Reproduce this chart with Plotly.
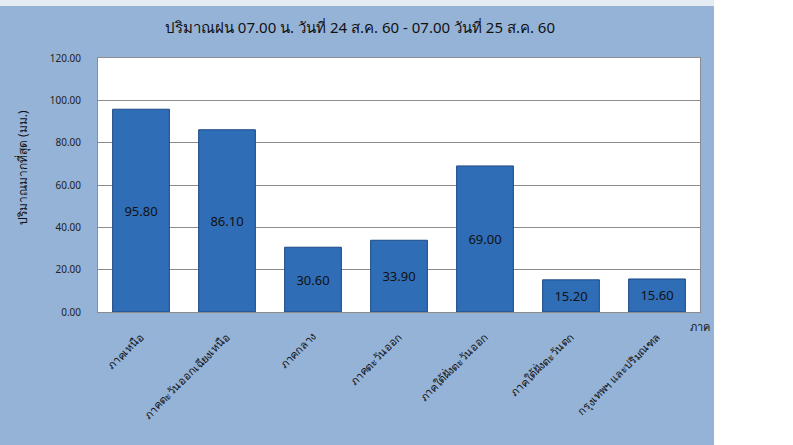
import plotly.graph_objects as go

categories = ["ภาคเหนือ", "ภาคตะวันออกเฉียงเหนือ", "ภาคกลาง", "ภาคตะวันออก",
              "ภาคใต้ฝั่งตะวันออก", "ภาคใต้ฝั่งตะวันตก", "กรุงเทพฯ และปริมณฑล"]
rain_mm = [95.80, 86.10, 30.60, 33.90, 69.00, 15.20, 15.60]
y_ticks = [0, 20, 40, 60, 80, 100, 120]

title_text = "ปริมาณฝน 07.00 น. วันที่ 24 ส.ค. 60 - 07.00 วันที่ 25 ส.ค. 60"
y_title = "ปริมาณมากที่สุด (มม.)"
x_title = "ภาค"

W, H = 793, 445
L, R, T, B = 98, 93, 58, 133
pw, ph = W - L - R, H - T - B

def px_x(px):
    return (px - L) / pw

def px_y(py):
    return (H - B - py) / ph

FONT = "Tahoma, 'Noto Sans', 'DejaVu Sans', sans-serif"

fig = go.Figure()
fig.add_trace(go.Bar(
    x=categories, y=rain_mm,
    width=0.66,
    marker=dict(color="#2F6DB6", line=dict(color="#1D4A85", width=1)),
    text=[f"{v:.2f}" for v in rain_mm],
    textposition="inside", insidetextanchor="middle",
    textfont=dict(color="#111111", size=13, family=FONT),
    cliponaxis=False,
))

fig.update_layout(
    width=W, height=H,
    margin=dict(l=L, r=R, t=T, b=B),
    paper_bgcolor="white",
    plot_bgcolor="white",
    showlegend=False,
    font=dict(family=FONT, color="#222222", size=10),
    title=dict(text=title_text, xref="container", x=360 / W, xanchor="center",
               y=1 - 28 / H, yanchor="middle", yref="container",
               font=dict(size=15, color="#111111", family=FONT)),
    shapes=[
        dict(type="rect", xref="paper", yref="paper", layer="below",
             x0=px_x(0), x1=px_x(714), y0=px_y(445), y1=px_y(6),
             fillcolor="#95B3D7", line=dict(width=0)),
        dict(type="rect", xref="paper", yref="paper", layer="below",
             x0=px_x(0), x1=px_x(714), y0=px_y(6), y1=px_y(0),
             fillcolor="#E4EBF3", line=dict(width=0)),
        dict(type="rect", xref="paper", yref="paper", layer="below",
             x0=0, x1=1, y0=0, y1=1,
             fillcolor="white", line=dict(width=0)),
    ],
    annotations=[
        dict(text=y_title, xref="paper", yref="paper", x=px_x(22), y=px_y(168),
             textangle=-90, showarrow=False, xanchor="center", yanchor="middle",
             font=dict(size=12, color="#111111", family=FONT)),
        dict(text=x_title, xref="paper", yref="paper", x=px_x(688), y=px_y(326),
             showarrow=False, xanchor="left", yanchor="middle",
             font=dict(size=11, color="#111111", family=FONT)),
    ],
)

fig.update_yaxes(
    range=[0, 120], tickvals=y_ticks, tickformat=".2f",
    showgrid=True, gridcolor="#8C8C8C", gridwidth=1,
    showline=True, linecolor="#8C8C8C", mirror=True,
    ticks="", tickfont=dict(size=10, color="#222222"),
    ticklabelstandoff=14,
    zeroline=False,
)
fig.update_xaxes(
    tickangle=-45, showline=True, linecolor="#8C8C8C", mirror=True,
    ticks="", tickfont=dict(size=11, color="#111111"),
    ticklabelstandoff=13,
)

fig.write_html("out.html",
               config={"displayModeBar": False},
               post_script="document.body.style.margin='0';document.body.style.overflow='hidden';")
